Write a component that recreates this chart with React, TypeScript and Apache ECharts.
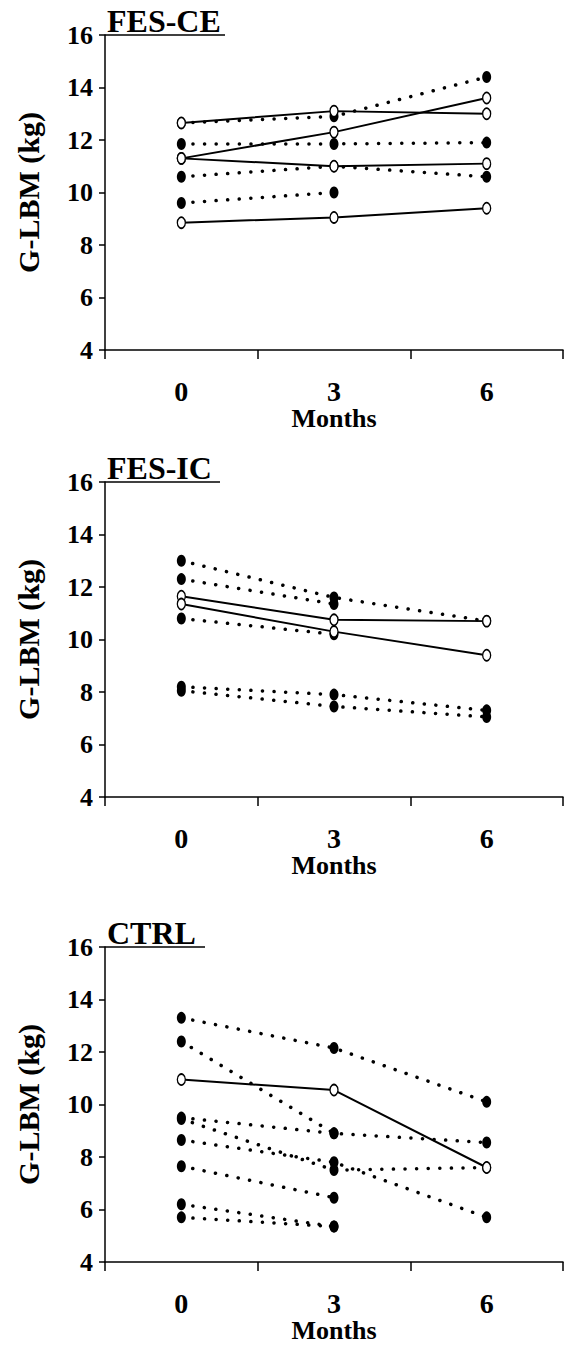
import React, { useEffect, useRef } from 'react';
import * as echarts from 'echarts';

// ---------- data ----------
const months = ['0', '3', '6'];
const yMin = 4;
const yMax = 16;
const yStep = 2;
const panelTitles = ['FES-CE', 'FES-IC', 'CTRL'];
const yAxisTitle = 'G-LBM (kg)';
const xAxisTitle = 'Months';

// FES-CE (panel 1): solid lines with open circles, dotted lines with filled circles
const ceSolid1 = [12.65, 13.1, 13.0];
const ceSolid2 = [11.3, 12.3, 13.6];
const ceSolid3 = [11.3, 11.0, 11.1];
const ceSolid4 = [8.85, 9.05, 9.4];
const ceDot1 = [12.65, 12.9, 14.4];
const ceDot2 = [11.85, 11.85, 11.9];
const ceDot3 = [10.6, 11.0, 10.6];
const ceDot4 = [9.6, 10.0, null];

// FES-IC (panel 2)
const icSolid1 = [11.65, 10.75, 10.7];
const icSolid2 = [11.35, 10.3, 9.4];
const icDot1 = [13.0, 11.6, 10.7];
const icDot2 = [12.3, 11.35, null];
const icDot3 = [10.8, 10.2, null];
const icDot4 = [8.2, 7.9, 7.3];
const icDot5 = [8.05, 7.45, 7.05];

// CTRL (panel 3)
const ctSolid1 = [10.95, 10.55, 7.6];
const ctDot1 = [13.3, 12.15, 10.1];
const ctDot2 = [12.4, 8.9, 8.55];
const ctDot3 = [9.5, 8.9, null];
const ctDot4 = [9.45, 7.5, 7.6];
const ctDot5 = [8.65, 7.8, 5.7];
const ctDot6 = [7.65, 6.45, null];
const ctDot7 = [6.2, 5.35, null];
const ctDot8 = [5.7, 5.35, null];

const panelSolid = [
  [ceSolid1, ceSolid2, ceSolid3, ceSolid4],
  [icSolid1, icSolid2],
  [ctSolid1],
];
const panelDotted = [
  [ceDot1, ceDot2, ceDot3, ceDot4],
  [icDot1, icDot2, icDot3, icDot4, icDot5],
  [ctDot1, ctDot2, ctDot3, ctDot4, ctDot5, ctDot6, ctDot7, ctDot8],
];

// ---------- layout ----------
const FONT = '"Liberation Serif", "Times New Roman", serif';
const gridTops = [35, 482, 947];
const gridHeight = 315;
const gridLeft = 105;
const gridRight = 2;

export default function App() {
  const ref = useRef<HTMLDivElement>(null);

  useEffect(() => {
    if (!ref.current) return;
    const chart = echarts.init(ref.current, null, { renderer: 'svg' });

    const grids = gridTops.map((t) => ({
      left: gridLeft,
      right: gridRight,
      top: t,
      height: gridHeight,
      containLabel: false,
    }));

    const xAxes = gridTops.map((_, i) => ({
      type: 'category',
      gridIndex: i,
      data: months,
      boundaryGap: true,
      axisLine: { lineStyle: { color: '#000', width: 1.5 } },
      axisTick: { show: true, length: 9, inside: false, lineStyle: { color: '#000', width: 1.5 } },
      axisLabel: {
        color: '#000',
        fontFamily: FONT,
        fontWeight: 'bold',
        fontSize: 28,
        margin: 27,
      },
      name: xAxisTitle,
      nameLocation: 'middle',
      nameGap: 54,
      nameTextStyle: { color: '#000', fontFamily: FONT, fontWeight: 'bold', fontSize: 26 },
      splitLine: { show: false },
    }));

    const yAxes = gridTops.map((_, i) => ({
      type: 'value',
      gridIndex: i,
      min: yMin,
      max: yMax,
      interval: yStep,
      axisLine: { show: true, lineStyle: { color: '#000', width: 1.5 } },
      axisTick: { show: true, length: 6, inside: false, lineStyle: { color: '#000', width: 1.5 } },
      axisLabel: {
        color: '#000',
        fontFamily: FONT,
        fontWeight: 'bold',
        fontSize: 26,
        margin: 12,
      },
      splitLine: { show: false },
      name: yAxisTitle,
      nameLocation: 'middle',
      nameGap: 62,
      nameRotate: 90,
      nameTextStyle: { color: '#000', fontFamily: FONT, fontWeight: 'bold', fontSize: 30 },
    }));

    const series: any[] = [];
    panelDotted.forEach((list, i) => {
      list.forEach((d, k) => {
        series.push({
          type: 'line',
          name: `${panelTitles[i]} dotted ${k + 1}`,
          xAxisIndex: i,
          yAxisIndex: i,
          data: d,
          symbol: 'circle',
          symbolSize: [9, 12],
          showSymbol: true,
          itemStyle: { color: '#000' },
          lineStyle: { color: '#000', width: 3.5, type: [0.1, 11.5], cap: 'round' },
          silent: true,
          z: 2,
        });
      });
    });
    panelSolid.forEach((list, i) => {
      list.forEach((d, k) => {
        series.push({
          type: 'line',
          name: `${panelTitles[i]} solid ${k + 1}`,
          xAxisIndex: i,
          yAxisIndex: i,
          data: d,
          symbol: 'circle',
          symbolSize: [8, 11],
          showSymbol: true,
          itemStyle: { color: '#fff', borderColor: '#000', borderWidth: 1.5 },
          lineStyle: { color: '#000', width: 2 },
          silent: true,
          z: 3,
        });
      });
    });

    const titleWidths = [120, 115, 100];
    const graphic: any[] = [];
    gridTops.forEach((t, i) => {
      graphic.push({
        type: 'text',
        left: 107,
        top: t - 30,
        style: {
          text: panelTitles[i],
          fill: '#000',
          font: `bold 32px ${FONT}`,
        },
      });
      graphic.push({
        type: 'line',
        shape: { x1: gridLeft, y1: t, x2: gridLeft + titleWidths[i], y2: t },
        style: { stroke: '#000', lineWidth: 1.5 },
      });
    });

    chart.setOption({
      animation: false,
      backgroundColor: '#fff',
      grid: grids,
      xAxis: xAxes,
      yAxis: yAxes,
      series,
      graphic,
    });

    return () => chart.dispose();
  }, []);

  return (
    <div
      ref={ref}
      style={{ position: 'absolute', left: 0, top: 0, width: 565, height: 1345, background: '#fff' }}
    />
  );
}
